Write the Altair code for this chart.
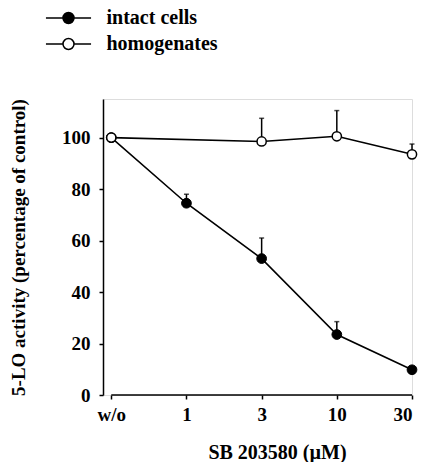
import json
import altair as alt
import pandas as pd

# ---- data ----
conc_labels = ["w/o", "1", "3", "10", "30"]

intact_conc = ["w/o", "1", "3", "10", "30"]
intact_vals = [100, 74.5, 53.0, 23.5, 9.8]
intact_err = [0, 3.5, 8.0, 5.0, 0]

homog_conc = ["w/o", "3", "10", "30"]
homog_vals = [100, 98.5, 100.5, 93.5]
homog_err = [0, 9.0, 10.0, 4.0]

series_names = ["intact cells", "homogenates"]
y_ticks = [0, 20, 40, 60, 80, 100]

rows = []
for c, v, e in zip(intact_conc, intact_vals, intact_err):
    rows.append({"series": series_names[0], "pos": conc_labels.index(c), "val": v, "hi": v + e, "err": e})
for c, v, e in zip(homog_conc, homog_vals, homog_err):
    rows.append({"series": series_names[1], "pos": conc_labels.index(c), "val": v, "hi": v + e, "err": e})
df = pd.DataFrame(rows)
err_df = df[df["err"] > 0]
intact_df = df[df["series"] == series_names[0]]
homog_df = df[df["series"] == series_names[1]]
axis_df = pd.DataFrame({"x0": [0], "x1": [len(conc_labels) - 1], "y": [0]})

FONT = "Liberation Serif"
W, H = 309, 296

xscale = alt.Scale(domain=[-0.11, 4.0], nice=False, zero=False)
yscale = alt.Scale(domain=[0, 115], nice=False)

label_expr = json.dumps(conc_labels) + "[datum.value]"

x_axis = alt.Axis(
    values=list(range(len(conc_labels))), labelExpr=label_expr, domain=False,
    ticks=True, tickSize=4, tickWidth=1.5, tickColor="black", grid=False,
    labelFont=FONT, labelFontSize=19, labelFontWeight="bold", labelColor="black",
    labelPadding=6, title="SB 203580 (µM)", titleFont=FONT, titleFontSize=20,
    titleFontWeight="bold", titleColor="black", titleX=174, titleY=63,
    titleAlign="center", titleBaseline="alphabetic",
)
y_axis = alt.Axis(
    values=y_ticks, domain=True, domainColor="black", domainWidth=1.5,
    ticks=True, tickSize=4, tickWidth=1.5, tickColor="black", grid=False,
    labelFont=FONT, labelFontSize=19, labelFontWeight="bold", labelColor="black",
    labelPadding=9, title="5-LO activity (percentage of control)", titleFont=FONT,
    titleFontSize=19, titleFontWeight="bold", titleColor="black",
    titleX=-85, titleY=H / 2, titleAlign="center", titleBaseline="middle", titleAngle=-90,
)

base = alt.Chart(df)

# axes carrier (invisible)
axes = alt.Chart(axis_df).mark_point(opacity=0).encode(
    x=alt.X("x0:Q", scale=xscale, axis=x_axis),
    y=alt.Y("y:Q", scale=yscale, axis=y_axis),
)

xline = alt.Chart(axis_df).mark_rule(color="black", strokeWidth=1.5).encode(
    x=alt.X("x0:Q", scale=xscale), x2="x1:Q", y=alt.Y("y:Q", scale=yscale)
)

err_rule = alt.Chart(err_df).mark_rule(color="black", strokeWidth=1.5).encode(
    x=alt.X("pos:Q", scale=xscale), y=alt.Y("val:Q", scale=yscale), y2="hi:Q"
)
err_cap = alt.Chart(err_df).mark_tick(color="black", orient="horizontal", size=5, thickness=1.5).encode(
    x=alt.X("pos:Q", scale=xscale), y=alt.Y("hi:Q", scale=yscale)
)

lines = base.mark_line(color="black", strokeWidth=1.6).encode(
    x=alt.X("pos:Q", scale=xscale), y=alt.Y("val:Q", scale=yscale),
    detail="series:N", order="pos:Q",
)

# legend glyph: circle of radius 1 unit (5.5 px) with line segments on both sides
legend_path = ("M-4.1,0L-1,0M1,0L4.1,0M-1,0A1,1,0,1,0,1,0A1,1,0,1,0,-1,0Z")

filled = alt.Chart(intact_df).mark_point(
    shape="circle", filled=True, size=95, stroke="black", strokeWidth=1, opacity=1
).encode(
    x=alt.X("pos:Q", scale=xscale), y=alt.Y("val:Q", scale=yscale),
    fill=alt.Fill(
        "series:N",
        scale=alt.Scale(domain=series_names, range=["black", "white"]),
        legend=alt.Legend(
            title=None, orient="none", legendX=-44.5, legendY=-91,
            symbolType=legend_path, symbolSize=121, symbolStrokeColor="black",
            symbolStrokeWidth=1.5, symbolOpacity=1,
            labelFont=FONT, labelFontSize=20, labelFontWeight="bold", labelColor="black",
            labelOffset=28, rowPadding=6, padding=0,
        ),
    ),
)
opened = alt.Chart(homog_df).mark_point(
    shape="circle", filled=True, size=85, stroke="black", strokeWidth=1.5, opacity=1
).encode(
    x=alt.X("pos:Q", scale=xscale), y=alt.Y("val:Q", scale=yscale),
    fill=alt.Fill("series:N", scale=alt.Scale(domain=series_names, range=["black", "white"])),
)

chart = alt.layer(axes, xline, err_rule, err_cap, lines, filled, opened).properties(
    width=W, height=H,
    autosize=alt.AutoSizeParams(type="none"),
    padding={"left": 103, "top": 99, "right": 11, "bottom": 67},
).configure_view(stroke=None).configure(background="white")

chart.save("out.html", embed_options={"renderer": "svg", "actions": False})
